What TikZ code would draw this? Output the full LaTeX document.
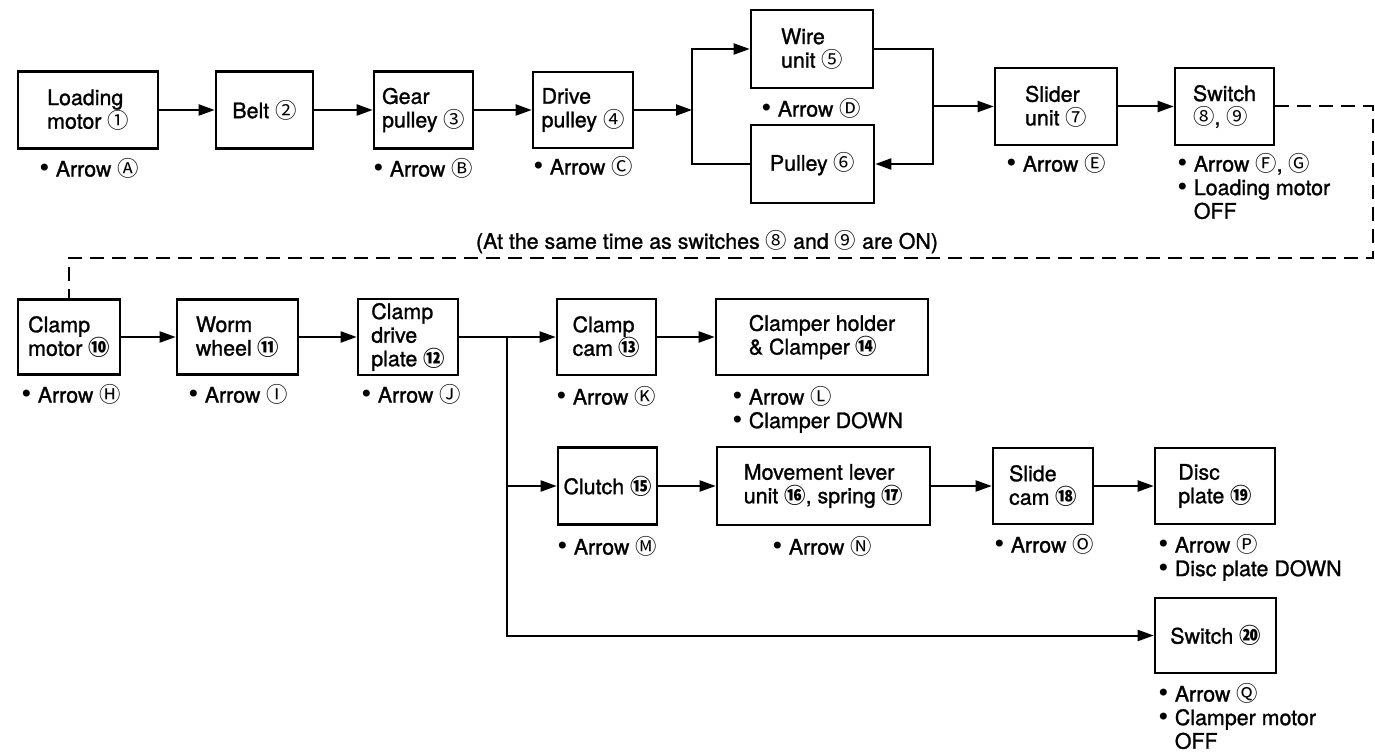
\documentclass[tikz,border=0pt]{standalone}
\definecolor{inkMain}{HTML}{000000}
\usepackage{fontspec}
\setmainfont{TeX Gyre Heros}[UprightFeatures={FakeBold=1.2}]
\newfontfamily\circfont{Noto Sans CJK JP}
\newfontfamily\dotfont{DejaVu Sans}
\usepackage{tikz}
\usetikzlibrary{arrows.meta, positioning}
\newcommand{\partfont}{\fontsize{10.7}{11.8}\selectfont}
\newcommand{\cnum}[1]{{\circfont #1}}
\newcommand{\cnumb}[1]{{\circfont\bfseries #1}}
\newcommand{\bpt}{{\dotfont\large •}\hspace{0.2em}}
\tikzset{
  part/.style={draw=inkMain, line width=1.3pt, align=left, inner sep=2pt, font=\partfont},
  note/.style={anchor=north west, inner sep=0pt, align=left, font=\partfont},
  flow/.style={draw=inkMain, line width=1pt, -{Triangle[length=8pt,width=5.5pt]}},
  dashlink/.style={draw=inkMain, line width=1pt, dash pattern=on 7pt off 4pt}
}

\begin{document}
\begin{tikzpicture}[x=0.5pt, y=-0.5pt]
        \useasboundingbox (0,0) rectangle (1375,754);

        % loading chain
        \node[part, minimum width=70pt, minimum height=38.5pt] (load) at (88,110) {Loading\\motor \cnum{①}};
        \node[part, minimum width=48.5pt, minimum height=38.5pt] (belt) at (264.5,110) {Belt \cnum{②}};
        \node[part, minimum width=49.5pt, minimum height=38.5pt] (gear) at (423.5,110) {Gear\\pulley \cnum{③}};
        \node[part, minimum width=50pt, minimum height=38pt] (drive) at (583,110) {Drive\\pulley \cnum{④}};
        \node[part, minimum width=61pt, minimum height=39pt] (wire) at (812,49) {Wire\\unit \cnum{⑤}};
        \node[part, minimum width=61.5pt, minimum height=39pt] (pulley) at (812.5,164) {Pulley \cnum{⑥}};
        \node[part, minimum width=61pt, minimum height=38.5pt] (slider) at (1056,106.5) {Slider\\unit \cnum{⑦}};
        \node[part, minimum width=49.5pt, minimum height=38.5pt] (sw89) at (1224.5,106.5) {Switch\\\cnum{⑧}, \cnum{⑨}};

        \coordinate (j1) at (692,110);
        \coordinate (j2) at (933,106.5);
        \coordinate (dturn) at (1373,258);

        \draw[flow] (load.east) -- (belt.west);
        \draw[flow] (belt.east) -- (gear.west);
        \draw[flow] (gear.east) -- (drive.west);
        \draw[flow] (drive.east) -- (j1);
        \draw[flow] (pulley.west) -| (j1) |- (wire.west);
        \draw[flow] (wire.east) -| (j2) |- (pulley.east);
        \draw[flow] (j2) -- (slider.west);
        \draw[flow] (slider.east) -- (sw89.west);

        \node[note] (nA) at (37,158) {\strut\bpt Arrow \cnum{Ⓐ}};
        \node[note] (nB) at (371,158) {\strut\bpt Arrow \cnum{Ⓑ}};
        \node[note] (nC) at (531,156) {\strut\bpt Arrow \cnum{Ⓒ}};
        \node[note] (nD) at (759,98) {\strut\bpt Arrow \cnum{Ⓓ}};
        \node[note] (nE) at (1004,153) {\strut\bpt Arrow \cnum{Ⓔ}};
        \node[note] (nF) at (1175,153) {\strut\bpt Arrow \cnum{Ⓕ}, \cnum{Ⓖ}\\\bpt Loading motor\\\hphantom{\bpt}OFF};

        \node[font=\partfont] (simul) at (707,242) {(At the same time as switches \cnum{⑧} and \cnum{⑨} are ON)};

        % clamp chain
        \node[part, minimum width=51pt, minimum height=37.5pt] (clampm) at (69,337) {Clamp\\motor \cnumb{⑩}};
        \node[part, minimum width=60.5pt, minimum height=37.5pt] (worm) at (237.5,337) {Worm\\wheel \cnumb{⑪}};
        \node[part, minimum width=50pt, minimum height=37.5pt] (plate) at (408,337) {Clamp\\drive\\plate \cnumb{⑫}};
        \node[part, minimum width=49.5pt, minimum height=38pt] (cam) at (606.5,337) {Clamp\\cam \cnumb{⑬}};
        \node[part, minimum width=106pt, minimum height=38pt] (holder) at (822,337) {Clamper holder\\\& Clamper \cnumb{⑭}};
        \node[part, minimum width=49.5pt, minimum height=38.5pt] (clutch) at (607.5,486) {Clutch \cnumb{⑮}};
        \node[part, minimum width=106.5pt, minimum height=39pt] (lever) at (823.5,486) {Movement lever\\unit \cnumb{⑯}, spring \cnumb{⑰}};
        \node[part, minimum width=50pt, minimum height=38pt] (slide) at (1043,486) {Slide\\cam \cnumb{⑱}};
        \node[part, minimum width=60pt, minimum height=38pt] (disc) at (1215,486) {Disc\\plate \cnumb{⑲}};
        \node[part, minimum width=60.5pt, minimum height=37.5pt] (sw20) at (1215.5,635.5) {Switch \cnumb{⑳}};

        \coordinate (j3) at (507,337);

        \draw[dashlink] (sw89.east) -| (dturn) -| (clampm.north);
        \draw[flow] (clampm.east) -- (worm.west);
        \draw[flow] (worm.east) -- (plate.west);
        \draw[flow] (plate.east) -- (cam.west);
        \draw[flow] (cam.east) -- (holder.west);
        \draw[flow] (j3) |- (clutch.west);
        \draw[flow] (j3) |- (sw20.west);
        \draw[flow] (clutch.east) -- (lever.west);
        \draw[flow] (lever.east) -- (slide.west);
        \draw[flow] (slide.east) -- (disc.west);

        \node[note] (nH) at (19,384) {\strut\bpt Arrow \cnum{Ⓗ}};
        \node[note] (nI) at (186,384) {\strut\bpt Arrow \cnum{Ⓘ}};
        \node[note] (nJ) at (359,384) {\strut\bpt Arrow \cnum{Ⓙ}};
        \node[note] (nK) at (554,386) {\strut\bpt Arrow \cnum{Ⓚ}};
        \node[note] (nL) at (730,386) {\strut\bpt Arrow \cnum{Ⓛ}\\\bpt Clamper DOWN};
        \node[note] (nM) at (555,536) {\strut\bpt Arrow \cnum{Ⓜ}};
        \node[note] (nN) at (770,536) {\strut\bpt Arrow \cnum{Ⓝ}};
        \node[note] (nO) at (992,534) {\strut\bpt Arrow \cnum{Ⓞ}};
        \node[note] (nP) at (1156,534) {\strut\bpt Arrow \cnum{Ⓟ}\\\bpt Disc plate DOWN};
        \node[note] (nQ) at (1156,683) {\strut\bpt Arrow \cnum{Ⓠ}\\\bpt Clamper motor\\\hphantom{\bpt}OFF};
      \end{tikzpicture}
\end{document}
